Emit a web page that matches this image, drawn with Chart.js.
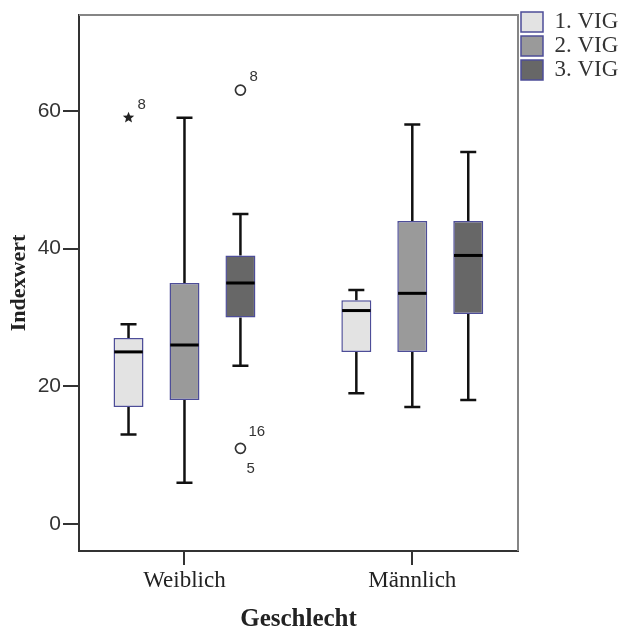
<!DOCTYPE html>
<html>
<head>
<meta charset="utf-8">
<script src="https://cdn.jsdelivr.net/npm/chart.js@4/dist/chart.umd.min.js"></script>
<style>
  html, body { margin: 0; padding: 0; background: #ffffff; }
  #wrap { width: 620px; height: 630px; }
</style>
</head>
<body>
<div id="wrap"><canvas id="c" width="620" height="630"></canvas></div>
<script>
// ---------- data ----------
const categories = ['Weiblich', 'Männlich'];
const seriesLabels = ['1. VIG', '2. VIG', '3. VIG'];
const yTicks = [0, 20, 40, 60];

// per series: [Weiblich, Männlich]
const vig1Min    = [13, 19];
const vig1Q1     = [17, 25];
const vig1Median = [25, 31];
const vig1Q3     = [27, 32.5];
const vig1Max    = [29, 34];

const vig2Min    = [6, 17];
const vig2Q1     = [18, 25];
const vig2Median = [26, 33.5];
const vig2Q3     = [35, 44];
const vig2Max    = [59, 58];

const vig3Min    = [23, 18];
const vig3Q1     = [30, 30.5];
const vig3Median = [35, 39];
const vig3Q3     = [39, 44];
const vig3Max    = [45, 54];

// outliers / extremes
const outlierCategory = [0, 0, 0];
const outlierSeries   = [0, 2, 2];
const outlierValue    = [59, 63, 11];
const outlierMarker   = ['star', 'circle', 'circle'];
const outlierCaseIds  = [['8'], ['8'], ['16', '5']];

// ---------- styles ----------
const fills = ['#e3e3e3', '#9a9a9a', '#676767'];
const boxBorder = '#4d4d98';
const serif = '"Liberation Serif", "Times New Roman", serif';
const sans = '"Liberation Sans", Arial, sans-serif';

function makeDataset(idx, label, q1, q3, mn, med, mx) {
  return {
    label: label,
    data: categories.map((c, i) => ({ x: i, y: [q1[i], q3[i]] })),
    whiskerMin: mn,
    whiskerMedian: med,
    whiskerMax: mx,
    backgroundColor: fills[idx],
    borderColor: boxBorder,
    borderWidth: 1.5,
    borderSkipped: false,
    categoryPercentage: 168 / 228,
    barPercentage: 30 / 56
  };
}

const datasets = [
  makeDataset(0, seriesLabels[0], vig1Q1, vig1Q3, vig1Min, vig1Median, vig1Max),
  makeDataset(1, seriesLabels[1], vig2Q1, vig2Q3, vig2Min, vig2Median, vig2Max),
  makeDataset(2, seriesLabels[2], vig3Q1, vig3Q3, vig3Min, vig3Median, vig3Max)
];

function drawStar(ctx, cx, cy, rOut, rIn) {
  ctx.beginPath();
  for (let k = 0; k < 10; k++) {
    const r = k % 2 === 0 ? rOut : rIn;
    const a = -Math.PI / 2 + k * Math.PI / 5;
    const px = cx + r * Math.cos(a), py = cy + r * Math.sin(a);
    if (k === 0) ctx.moveTo(px, py); else ctx.lineTo(px, py);
  }
  ctx.closePath();
  ctx.fill();
}

const boxParts = {
  id: 'boxParts',
  afterLayout(chart) {
    const lg = chart.legend;
    if (lg) { lg.top -= 5.5; lg.bottom -= 5.5; lg.left += 2; lg.right += 2; }
  },
  beforeDatasetsDraw(chart) {
    const ctx = chart.ctx, ys = chart.scales.y;
    ctx.save();
    ctx.strokeStyle = '#111';
    ctx.lineWidth = 2.5;
    chart.data.datasets.forEach((ds, di) => {
      const meta = chart.getDatasetMeta(di);
      meta.data.forEach((bar, i) => {
        const cx = bar.x;
        const top = Math.min(bar.y, bar.base), bot = Math.max(bar.y, bar.base);
        const pMax = ys.getPixelForValue(ds.whiskerMax[i]);
        const pMin = ys.getPixelForValue(ds.whiskerMin[i]);
        const cap = 8;
        ctx.beginPath();
        ctx.moveTo(cx, top); ctx.lineTo(cx, pMax);
        ctx.moveTo(cx - cap, pMax); ctx.lineTo(cx + cap, pMax);
        ctx.moveTo(cx, bot); ctx.lineTo(cx, pMin);
        ctx.moveTo(cx - cap, pMin); ctx.lineTo(cx + cap, pMin);
        ctx.stroke();
      });
    });
    ctx.restore();
  },
  afterDatasetsDraw(chart) {
    const ctx = chart.ctx, ys = chart.scales.y, area = chart.chartArea;
    ctx.save();
    // medians
    ctx.strokeStyle = '#000';
    ctx.lineWidth = 3;
    chart.data.datasets.forEach((ds, di) => {
      const meta = chart.getDatasetMeta(di);
      meta.data.forEach((bar, i) => {
        const pm = ys.getPixelForValue(ds.whiskerMedian[i]);
        const half = bar.width / 2 - 0.75;
        ctx.beginPath();
        ctx.moveTo(bar.x - half, pm); ctx.lineTo(bar.x + half, pm);
        ctx.stroke();
      });
    });
    // outliers
    ctx.font = '15px ' + sans;
    ctx.textBaseline = 'alphabetic';
    ctx.textAlign = 'left';
    outlierValue.forEach((v, k) => {
      const bar = chart.getDatasetMeta(outlierSeries[k]).data[outlierCategory[k]];
      const cx = bar.x, cy = ys.getPixelForValue(v);
      if (outlierMarker[k] === 'star') {
        ctx.fillStyle = '#222';
        drawStar(ctx, cx, cy, 6, 2.6);
      } else {
        ctx.strokeStyle = '#333';
        ctx.lineWidth = 1.7;
        ctx.beginPath();
        ctx.arc(cx, cy, 5, 0, Math.PI * 2);
        ctx.stroke();
      }
      ctx.fillStyle = '#333';
      const ids = outlierCaseIds[k];
      if (ids.length === 1) {
        ctx.fillText(ids[0], cx + 9, cy - 9);
      } else {
        ctx.fillText(ids[0], cx + 8, cy - 12);
        ctx.fillText(ids[1], cx + 6, cy + 25);
      }
    });
    // top and right frame
    ctx.strokeStyle = '#858585';
    ctx.lineWidth = 2;
    ctx.beginPath();
    ctx.moveTo(area.left, area.top);
    ctx.lineTo(area.right, area.top);
    ctx.lineTo(area.right, area.bottom);
    ctx.stroke();
    ctx.restore();
  }
};

new Chart(document.getElementById('c'), {
  type: 'bar',
  data: { datasets: datasets },
  plugins: [boxParts],
  options: {
    responsive: false,
    devicePixelRatio: 1,
    animation: false,
    layout: { padding: { top: 15, left: 0, right: 0, bottom: 0 } },
    plugins: {
      tooltip: { enabled: false },
      legend: {
        display: true,
        position: 'right',
        align: 'start',
        maxWidth: 102,
        labels: {
          boxWidth: 22,
          boxHeight: 20,
          padding: 1,
          color: '#333',
          font: { family: serif, size: 23 }
        }
      }
    },
    scales: {
      x: {
        type: 'linear',
        position: 'bottom',
        min: -0.463,
        max: 1.464,
        offset: false,
        afterBuildTicks: (s) => { s.ticks = categories.map((c, i) => ({ value: i })); },
        afterFit: (s) => { s.height = 79; },
        ticks: {
          autoSkip: false,
          maxRotation: 0,
          padding: 2,
          color: '#222',
          font: { family: serif, size: 23 },
          callback: (v) => categories[v] !== undefined ? categories[v] : ''
        },
        grid: { offset: false, drawOnChartArea: false, drawTicks: true, tickLength: 14, color: '#333', lineWidth: 2 },
        border: { display: true, color: '#333', width: 2 },
        title: {
          display: true,
          text: 'Geschlecht',
          color: '#222',
          font: { family: serif, size: 25, weight: 'bold', lineHeight: 1 },
          padding: { top: 0, bottom: -2 }
        }
      },
      y: {
        type: 'linear',
        min: -3.9,
        max: 73.9,
        afterBuildTicks: (s) => { s.ticks = yTicks.map(v => ({ value: v })); },
        afterFit: (s) => { s.width = 79; },
        ticks: {
          padding: 2,
          color: '#333',
          font: { family: sans, size: 21 }
        },
        grid: { drawOnChartArea: false, drawTicks: true, tickLength: 16, color: '#333', lineWidth: 2 },
        border: { display: true, color: '#333', width: 2 },
        title: {
          display: true,
          text: 'Indexwert',
          color: '#222',
          font: { family: serif, size: 22, weight: 'bold', lineHeight: 1 },
          padding: { top: 8, bottom: 0 }
        }
      }
    }
  }
});
</script>
</body>
</html>
